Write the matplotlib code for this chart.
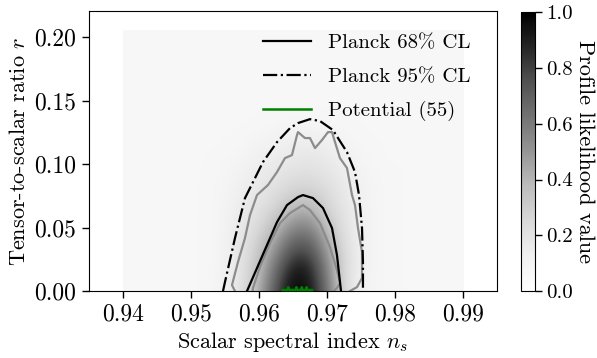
import numpy as np
import matplotlib
matplotlib.use("Agg")
import matplotlib.pyplot as plt
from matplotlib.colors import Normalize

plt.rcParams['font.family'] = 'serif'
plt.rcParams['font.serif'] = ['cmr10']
plt.rcParams['mathtext.fontset'] = 'cm'
plt.rcParams['axes.formatter.use_mathtext'] = True
plt.rcParams['axes.unicode_minus'] = False

# ---------------- data ----------------
# profile-likelihood table (rows: r, columns: n_s)
grid_ns = [0.9500, 0.9525, 0.9550, 0.9575, 0.9600, 0.9625, 0.9650,
           0.9675, 0.9700, 0.9725, 0.9750, 0.9775, 0.9800]
grid_r = [0.00, 0.01, 0.02, 0.03, 0.04, 0.05, 0.06, 0.07,
          0.08, 0.09, 0.10, 0.11, 0.12, 0.13, 0.14]
likelihood = [
    [0.07, 0.07, 0.11, 0.20, 0.40, 0.75, 0.99, 0.94, 0.64, 0.23, 0.11, 0.08, 0.07],
    [0.07, 0.07, 0.11, 0.20, 0.38, 0.69, 0.96, 0.91, 0.59, 0.23, 0.11, 0.08, 0.07],
    [0.07, 0.07, 0.10, 0.19, 0.36, 0.62, 0.89, 0.87, 0.55, 0.24, 0.12, 0.08, 0.07],
    [0.07, 0.07, 0.10, 0.19, 0.32, 0.54, 0.78, 0.78, 0.49, 0.23, 0.12, 0.08, 0.07],
    [0.07, 0.07, 0.10, 0.18, 0.29, 0.46, 0.67, 0.68, 0.43, 0.22, 0.12, 0.08, 0.07],
    [0.07, 0.07, 0.10, 0.17, 0.25, 0.38, 0.55, 0.57, 0.36, 0.20, 0.12, 0.08, 0.07],
    [0.07, 0.07, 0.10, 0.16, 0.22, 0.31, 0.44, 0.46, 0.30, 0.19, 0.12, 0.08, 0.07],
    [0.07, 0.07, 0.09, 0.15, 0.19, 0.25, 0.34, 0.36, 0.26, 0.17, 0.11, 0.08, 0.07],
    [0.07, 0.07, 0.09, 0.13, 0.17, 0.22, 0.27, 0.28, 0.23, 0.16, 0.11, 0.08, 0.07],
    [0.07, 0.07, 0.08, 0.12, 0.15, 0.18, 0.22, 0.23, 0.19, 0.15, 0.10, 0.08, 0.07],
    [0.07, 0.07, 0.08, 0.10, 0.13, 0.16, 0.18, 0.19, 0.17, 0.13, 0.09, 0.07, 0.07],
    [0.07, 0.07, 0.07, 0.08, 0.11, 0.13, 0.15, 0.16, 0.14, 0.11, 0.08, 0.07, 0.07],
    [0.07, 0.07, 0.07, 0.07, 0.09, 0.11, 0.12, 0.13, 0.12, 0.09, 0.07, 0.07, 0.07],
    [0.07, 0.07, 0.07, 0.07, 0.07, 0.08, 0.09, 0.09, 0.08, 0.07, 0.07, 0.07, 0.07],
    [0.07, 0.07, 0.07, 0.07, 0.07, 0.07, 0.07, 0.07, 0.07, 0.07, 0.07, 0.07, 0.07],
]
background_value = 0.07
scan_ns_range = [0.94, 0.99]
scan_r_range = [0.0, 0.205]

# Planck contours
planck68_ns = [0.95824, 0.95971, 0.96118, 0.96265, 0.96412, 0.96574, 0.96647,
               0.96794, 0.96941, 0.97074, 0.97147, 0.97206]
planck68_r = [0.0, 0.0181, 0.0362, 0.0543, 0.0677, 0.0740, 0.0756,
              0.0732, 0.0654, 0.0496, 0.0283, 0.0]
planck95_ns = [0.95471, 0.95500, 0.95647, 0.95794, 0.95912, 0.96059, 0.96265,
               0.96456, 0.96574, 0.96750, 0.96897, 0.97088, 0.97294, 0.97412,
               0.97471, 0.97515, 0.97529, 0.97529]
planck95_r = [0.0, 0.0071, 0.0417, 0.0732, 0.0858, 0.1016, 0.1173,
              0.1283, 0.1323, 0.1354, 0.1339, 0.1268, 0.1094, 0.0937,
              0.0756, 0.0496, 0.0228, 0.0]

# profile-likelihood confidence contours (gray)
pl_outer_ns = [0.95647, 0.95603, 0.95691, 0.95794, 0.95868, 0.95971, 0.96132,
               0.96265, 0.96382, 0.96485, 0.96559, 0.96574, 0.96676, 0.96750,
               0.96824, 0.96926, 0.97015, 0.97074, 0.97118, 0.97191, 0.97294,
               0.97368, 0.97412, 0.97456, 0.97515, 0.97515, 0.97441, 0.97338]
pl_outer_r = [0.0, 0.0047, 0.0228, 0.0417, 0.0598, 0.0756, 0.0835,
              0.0937, 0.1047, 0.1071, 0.1228, 0.1252, 0.1205, 0.1205,
              0.1126, 0.1189, 0.1252, 0.1252, 0.1173, 0.1047, 0.0969,
              0.0756, 0.0677, 0.0496, 0.0307, 0.0102, 0.0031, 0.0]
pl_inner_ns = [0.95907, 0.95912, 0.96015, 0.96162, 0.96309, 0.96456, 0.96647,
               0.96750, 0.96897, 0.97044, 0.97147, 0.97191, 0.97147, 0.97100]
pl_inner_r = [0.0, 0.0024, 0.0189, 0.0378, 0.0535, 0.0614, 0.0677,
              0.0638, 0.0535, 0.0346, 0.0165, 0.0063, 0.0024, 0.0]

# potential prediction
potential_ns = [0.9635, 0.9642, 0.9643, 0.9644, 0.9654, 0.9655, 0.9656,
                0.9662, 0.9663, 0.9664, 0.9669, 0.9670, 0.9671, 0.9678]
potential_r = [0.0008, 0.0008, 0.0030, 0.0008, 0.0008, 0.0030, 0.0008,
               0.0008, 0.0030, 0.0008, 0.0008, 0.0030, 0.0008, 0.0008]

# ---------------- figure ----------------
fig = plt.figure(figsize=(5.97, 3.58), dpi=100)
ax = fig.add_axes([0.149, 0.187, 0.6835, 0.782])
cax = fig.add_axes([0.8727, 0.187, 0.0235, 0.779])

cmap = plt.get_cmap('Greys')
norm = Normalize(0, 1)

ax.imshow([[background_value]], cmap=cmap, norm=norm, aspect='auto',
          extent=[scan_ns_range[0], scan_ns_range[1], scan_r_range[0], scan_r_range[1]],
          origin='lower', zorder=0)
dns = grid_ns[1] - grid_ns[0]
dr = grid_r[1] - grid_r[0]
im = ax.imshow(np.array(likelihood), cmap=cmap, norm=norm, aspect='auto',
               origin='lower', interpolation='bicubic',
               extent=[grid_ns[0] - dns / 2, grid_ns[-1] + dns / 2,
                       grid_r[0] - dr / 2, grid_r[-1] + dr / 2], zorder=1)

gray = '#8c8c8c'
ax.plot(pl_outer_ns, pl_outer_r, color=gray, lw=1.6, zorder=2)
ax.plot(pl_inner_ns, pl_inner_r, color=gray, lw=1.6, zorder=2)
ax.plot(planck68_ns, planck68_r, color='black', lw=1.6, label='Planck 68% CL', zorder=3)
ax.plot(planck95_ns, planck95_r, color='black', lw=1.6, ls='-.', label='Planck 95% CL', zorder=3)
ax.plot(potential_ns, potential_r, color='green', lw=1.8, label='Potential (55)',
        zorder=4, clip_on=False)

ax.set_xlim(0.935, 0.995)
ax.set_ylim(0.0, 0.2205)
ax.set_xticks([0.94, 0.95, 0.96, 0.97, 0.98, 0.99])
ax.set_yticks([0.00, 0.05, 0.10, 0.15, 0.20])
ax.set_xticklabels(['0.94', '0.95', '0.96', '0.97', '0.98', '0.99'])
ax.set_yticklabels(['0.00', '0.05', '0.10', '0.15', '0.20'])
ax.tick_params(labelsize=17, length=5, width=1, pad=4)
ax.set_xlabel(r'Scalar spectral index $n_s$', fontsize=16, labelpad=3)
ax.set_ylabel(r'Tensor-to-scalar ratio $r$', fontsize=16, labelpad=4)

leg = ax.legend(loc='upper right', frameon=False, fontsize=15,
                handlelength=2.3, handletextpad=0.8, labelspacing=0.72,
                borderaxespad=0.3,
                bbox_to_anchor=(1 - 12 / 408, 1 - 8 / 280))

cb = fig.colorbar(im, cax=cax)
cb.set_ticks([0.0, 0.2, 0.4, 0.6, 0.8, 1.0])
cb.set_ticklabels(['0.0', '0.2', '0.4', '0.6', '0.8', '1.0'])
cb.ax.tick_params(labelsize=15, length=5, width=1, pad=3)
fig.text(0.98, 0.577, 'Profile likelihood value', fontsize=16, rotation=270,
         ha='center', va='center')

fig.savefig('out.png', dpi=100)
